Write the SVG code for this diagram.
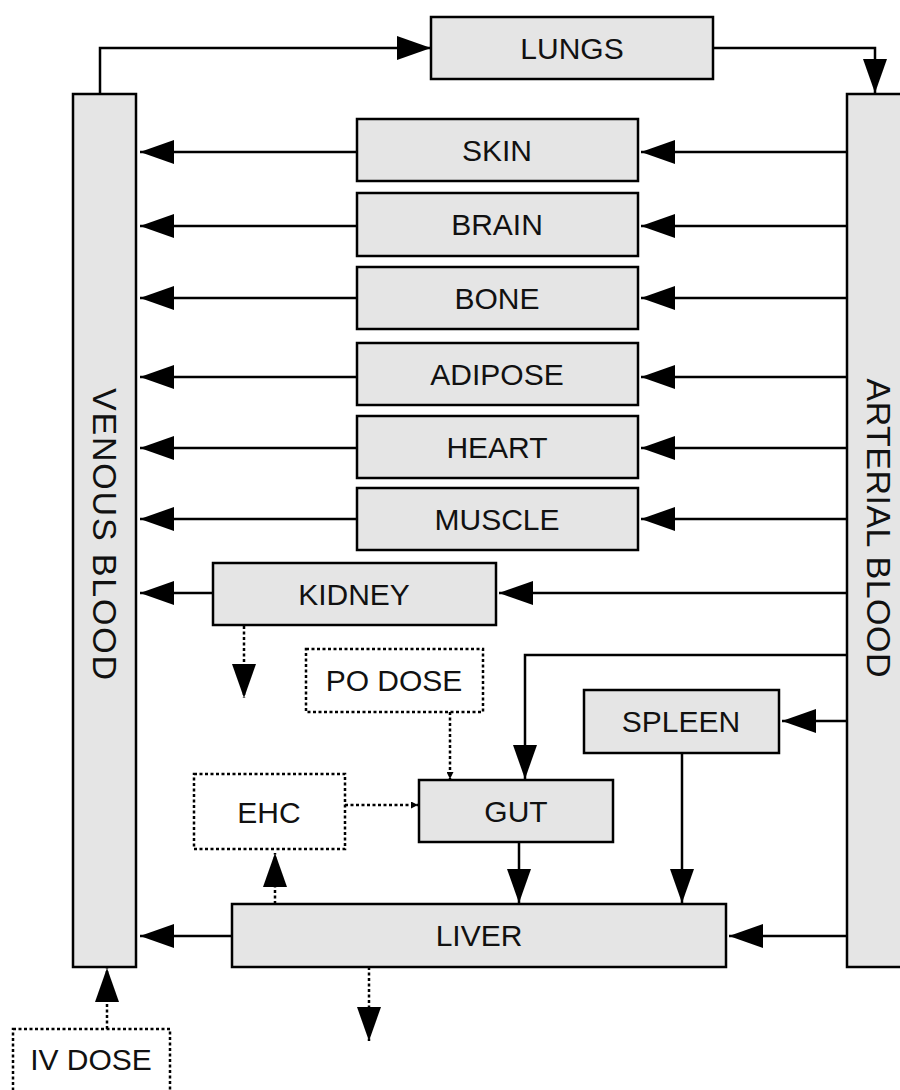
<svg xmlns="http://www.w3.org/2000/svg" width="900" height="1090" viewBox="0 0 900 1090">
<defs>
<marker id="ah" markerUnits="userSpaceOnUse" markerWidth="34" markerHeight="24" refX="34" refY="12" orient="auto"><path d="M0,0 L34,12 L0,24 z" fill="#000"/></marker>
<marker id="sh" markerUnits="userSpaceOnUse" markerWidth="7" markerHeight="7" refX="7" refY="3.5" orient="auto"><path d="M0,0 L7,3.5 L0,7 z" fill="#000"/></marker>
</defs>
<style>
.b{fill:#e5e5e5;stroke:#000;stroke-width:2.5}
.d{fill:#fff;stroke:#000;stroke-width:2.5;stroke-dasharray:3 2.5}
.t{font-family:"Liberation Sans",Arial,sans-serif;font-size:30px;fill:#111;text-anchor:middle;dominant-baseline:central}
.v{font-size:34px}
.c{fill:none;stroke:#000;stroke-width:2.5}
.cd{fill:none;stroke:#000;stroke-width:2.5;stroke-dasharray:3 2.5}
</style>
<rect width="900" height="1090" fill="#fff"/>
<g id="connectors">
<path class="c" d="M100,93 V48 H431" marker-end="url(#ah)"/>
<path class="c" d="M713,48 H875 V93" marker-end="url(#ah)"/>
<path class="c" d="M847,152 H641" marker-end="url(#ah)"/>
<path class="c" d="M847,226 H641" marker-end="url(#ah)"/>
<path class="c" d="M847,298 H641" marker-end="url(#ah)"/>
<path class="c" d="M847,377 H641" marker-end="url(#ah)"/>
<path class="c" d="M847,448 H641" marker-end="url(#ah)"/>
<path class="c" d="M847,519 H641" marker-end="url(#ah)"/>
<path class="c" d="M357,152 H140" marker-end="url(#ah)"/>
<path class="c" d="M357,226 H140" marker-end="url(#ah)"/>
<path class="c" d="M357,298 H140" marker-end="url(#ah)"/>
<path class="c" d="M357,377 H140" marker-end="url(#ah)"/>
<path class="c" d="M357,448 H140" marker-end="url(#ah)"/>
<path class="c" d="M357,519 H140" marker-end="url(#ah)"/>
<path class="c" d="M847,593 H499" marker-end="url(#ah)"/>
<path class="c" d="M213,593 H140" marker-end="url(#ah)"/>
<path class="cd" d="M244,626 V698" marker-end="url(#ah)"/>
<path class="cd" d="M450,712 V779" marker-end="url(#sh)"/>
<path class="c" d="M847,655 H525 V779" marker-end="url(#ah)"/>
<path class="c" d="M847,721 H782" marker-end="url(#ah)"/>
<path class="cd" d="M345,805 H418" marker-end="url(#sh)"/>
<path class="c" d="M519,842 V903" marker-end="url(#ah)"/>
<path class="c" d="M682,753 V903" marker-end="url(#ah)"/>
<path class="c" d="M232,936 H140" marker-end="url(#ah)"/>
<path class="c" d="M847,936 H729" marker-end="url(#ah)"/>
<path class="cd" d="M275,904 V853" marker-end="url(#ah)"/>
<path class="cd" d="M369,967 V1041" marker-end="url(#ah)"/>
<path class="cd" d="M107,1029 V968" marker-end="url(#ah)"/>
</g>
<g id="venous"><rect class="b" x="73" y="94" width="63" height="873"/><text class="t v" transform="translate(105,534) rotate(90)" textLength="292" lengthAdjust="spacing">VENOUS BLOOD</text></g>
<g id="arterial"><rect class="b" x="847" y="94" width="70" height="873"/><text class="t v" transform="translate(879,528) rotate(90)" textLength="299" lengthAdjust="spacing">ARTERIAL BLOOD</text></g>
<g id="lungs"><rect class="b" x="431" y="17" width="282" height="62"/><text class="t" x="572" y="48">LUNGS</text></g>
<g id="skin"><rect class="b" x="357" y="119" width="281" height="62"/><text class="t" x="497" y="150">SKIN</text></g>
<g id="brain"><rect class="b" x="357" y="193" width="281" height="63"/><text class="t" x="497" y="224">BRAIN</text></g>
<g id="bone"><rect class="b" x="357" y="267" width="281" height="62"/><text class="t" x="497" y="298">BONE</text></g>
<g id="adipose"><rect class="b" x="357" y="343" width="281" height="62"/><text class="t" x="497" y="374">ADIPOSE</text></g>
<g id="heart"><rect class="b" x="357" y="416" width="281" height="62"/><text class="t" x="497" y="447">HEART</text></g>
<g id="muscle"><rect class="b" x="357" y="488" width="281" height="62"/><text class="t" x="497" y="519">MUSCLE</text></g>
<g id="kidney"><rect class="b" x="213" y="563" width="283" height="62"/><text class="t" x="354" y="594">KIDNEY</text></g>
<g id="podose"><rect class="d" x="306" y="649" width="177" height="63"/><text class="t" x="394" y="680">PO DOSE</text></g>
<g id="spleen"><rect class="b" x="584" y="690" width="195" height="63"/><text class="t" x="681" y="721">SPLEEN</text></g>
<g id="ehc"><rect class="d" x="194" y="774" width="151" height="75"/><text class="t" x="269" y="812">EHC</text></g>
<g id="gut"><rect class="b" x="419" y="780" width="194" height="62"/><text class="t" x="516" y="811">GUT</text></g>
<g id="liver"><rect class="b" x="232" y="904" width="494" height="63"/><text class="t" x="479" y="935">LIVER</text></g>
<g id="ivdose"><rect class="d" x="13" y="1029" width="157" height="80"/><text class="t" x="91" y="1059">IV DOSE</text></g>
</svg>
